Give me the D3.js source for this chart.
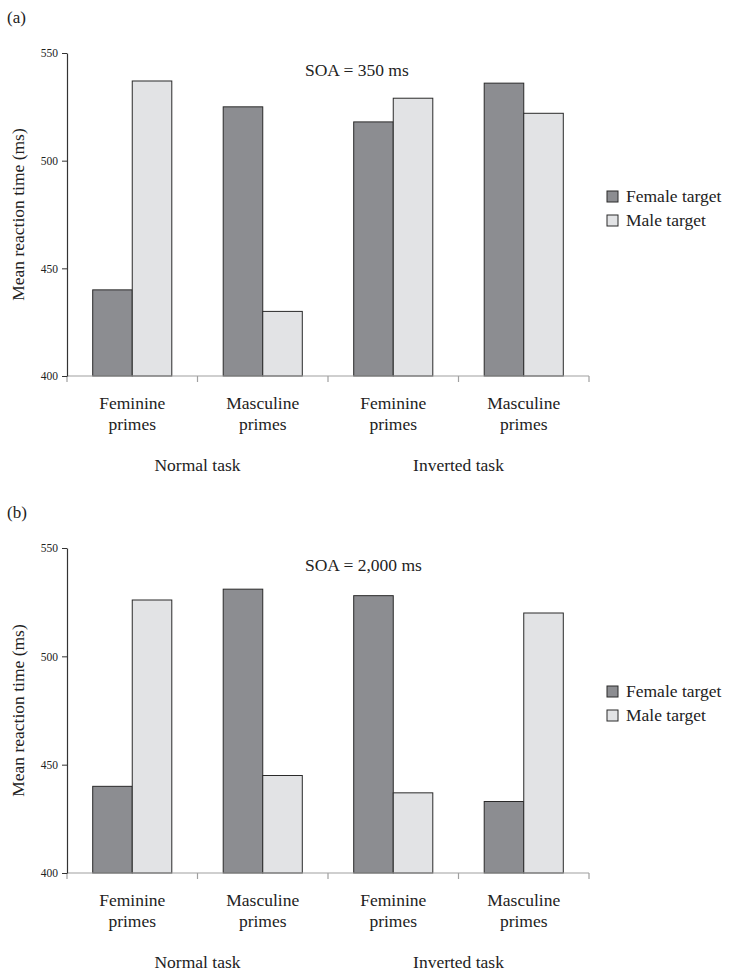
<!DOCTYPE html>
<html>
<head>
<meta charset="utf-8">
<script src="https://cdn.jsdelivr.net/npm/d3@7"></script>
<style>
  html, body { margin: 0; padding: 0; background: #fff; }
</style>
</head>
<body>
<svg id="chart" width="742" height="972"></svg>
<script>
// Prime categories and task groups
const primes = ["Feminine primes", "Masculine primes", "Feminine primes", "Masculine primes"];
const tasks = ["Normal task", "Inverted task"];
const targets = ["Female target", "Male target"];
const yTicks = [400, 450, 500, 550];

// Mean reaction times (ms), SOA = 350 ms
const femaleA = [440, 525, 518, 536];
const maleA   = [537, 430, 529, 522];
// Mean reaction times (ms), SOA = 2,000 ms
const femaleB = [440, 531, 528, 433];
const maleB   = [526, 445, 437, 520];

const colors = { "Female target": "#8c8d91", "Male target": "#e2e3e5" };
const SERIF = "'Liberation Serif', 'Times New Roman', Times, 'DejaVu Serif', serif";

const svg = d3.select("#chart");

function drawPanel(opts) {
  const { tag, soa, female, male, top, bottom } = opts;
  const left = 67, right = 589;
  const g = svg.append("g");

  const x = d3.scaleBand().domain(d3.range(primes.length)).range([left, right]).paddingInner(0).paddingOuter(0);
  const inner = d3.scaleBand().domain(targets).range([0, x.bandwidth()]).paddingInner(0).paddingOuter(0.65);
  const y = d3.scaleLinear().domain([400, 550]).range([bottom, top]);

  // panel tag
  g.append("text").attr("x", 7).attr("y", top - 30).attr("font-size", 17).text(tag);

  // bars
  const rows = primes.map((p, i) => ({ i, vals: [female[i], male[i]] }));
  const grp = g.selectAll(".grp").data(rows).join("g").attr("transform", d => `translate(${x(d.i)},0)`);
  grp.selectAll("rect").data(d => d.vals.map((v, k) => ({ v, t: targets[k] }))).join("rect")
    .attr("x", d => inner(d.t))
    .attr("width", inner.bandwidth())
    .attr("y", d => y(d.v))
    .attr("height", d => y(400) - y(d.v))
    .attr("fill", d => colors[d.t])
    .attr("stroke", "#2a2a2a")
    .attr("stroke-width", 1);

  // x axis (light grey baseline with downward ticks at band edges)
  const xa = g.append("g");
  xa.append("line").attr("x1", left).attr("x2", right).attr("y1", y(400)).attr("y2", y(400))
    .attr("stroke", "#a0a0a0").attr("stroke-width", 1.2);
  const edges = d3.range(primes.length + 1).map(i => i < primes.length ? x(i) : x(primes.length - 1) + x.bandwidth());
  xa.selectAll(".xt").data(edges).join("line")
    .attr("x1", d => d).attr("x2", d => d)
    .attr("y1", y(400)).attr("y2", y(400) + 6)
    .attr("stroke", "#a0a0a0").attr("stroke-width", 1.2);

  // y axis
  const ya = g.append("g").attr("transform", `translate(${left},0)`)
    .call(d3.axisLeft(y).tickValues(yTicks).tickSize(5).tickSizeOuter(0).tickPadding(4));
  ya.attr("font-family", null);
  ya.select(".domain").attr("stroke", "#333").attr("stroke-width", 1.2);
  ya.selectAll(".tick line").attr("stroke", "#333");
  ya.selectAll(".tick text").attr("font-size", 11.5).attr("fill", "#333");

  // category labels
  const cat = g.selectAll(".cat").data(primes).join("text")
    .attr("text-anchor", "middle")
    .attr("font-size", 17.5);
  cat.each(function (d, i) {
    const words = d.split(" ");
    const t = d3.select(this);
    words.forEach((w, k) => {
      t.append("tspan").attr("x", x(i) + x.bandwidth() / 2).attr("y", y(400) + 33 + k * 21).text(w);
    });
  });

  // task labels spanning two categories
  g.selectAll(".task").data(tasks).join("text")
    .attr("text-anchor", "middle")
    .attr("font-size", 17.5)
    .attr("x", (d, i) => x(i * 2) + x.bandwidth())
    .attr("y", y(400) + 95)
    .text(d => d);

  // y-axis title
  g.append("text")
    .attr("transform", `translate(24,${(top + bottom) / 2}) rotate(-90)`)
    .attr("text-anchor", "middle")
    .attr("font-size", 17.5)
    .text("Mean reaction time (ms)");

  // SOA annotation
  g.append("text").attr("x", 305).attr("y", top + 23).attr("font-size", 17.5).text(soa);

  // legend
  const leg = g.append("g").attr("transform", `translate(607,${top + 143})`);
  targets.forEach((t, k) => {
    leg.append("rect").attr("x", 0).attr("y", k * 24 - 5).attr("width", 11).attr("height", 11)
      .attr("fill", colors[t]).attr("stroke", "#2a2a2a").attr("stroke-width", 1);
    leg.append("text").attr("x", 19).attr("y", k * 24 + 6).attr("font-size", 17.5).text(t);
  });
}

drawPanel({ tag: "(a)", soa: "SOA = 350 ms", female: femaleA, male: maleA, top: 53, bottom: 376 });
drawPanel({ tag: "(b)", soa: "SOA = 2,000 ms", female: femaleB, male: maleB, top: 548, bottom: 873 });

// serif type throughout
svg.selectAll("text").style("font-family", SERIF).style("fill", "#222");
</script>
</body>
</html>
